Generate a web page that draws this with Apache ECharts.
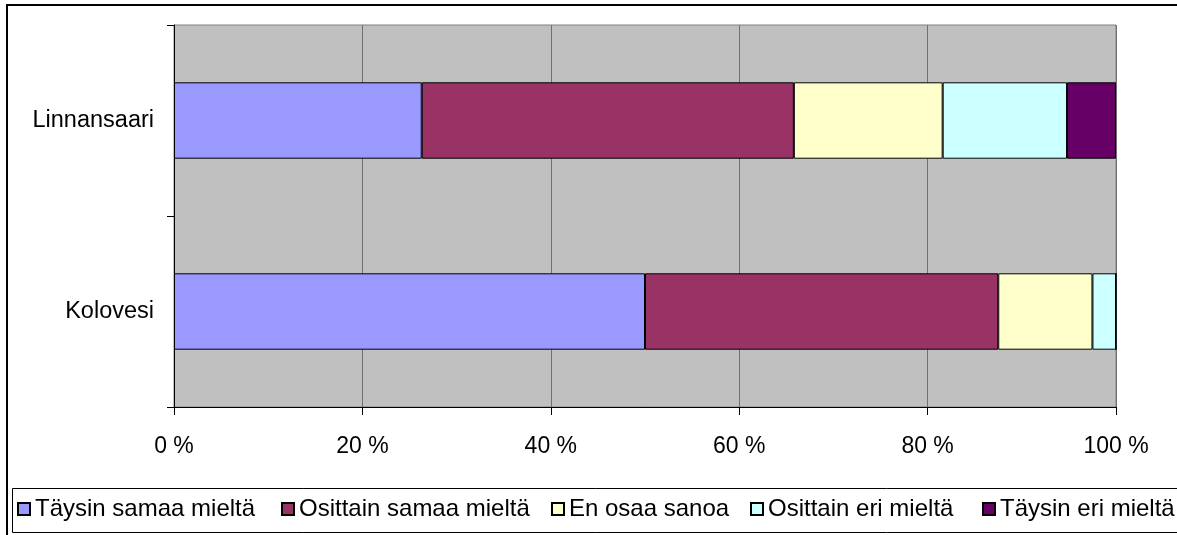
<!DOCTYPE html>
<html>
<head>
  <script src="https://cdn.jsdelivr.net/npm/echarts@6.0.0/dist/echarts.min.js"></script>
  <style>
    body {
      margin: 0;
      padding: 0;
      background-color: white;
    }
    #main {
      width: 1177px;
      height: 535px;
    }
  </style>
  <title>Linnansaari / Kolovesi</title>
</head>
<body>
<div id="main"></div>
<script>
  // categories bottom -> top, like Excel
  var categories = ['Kolovesi', 'Linnansaari'];
  var seriesNames = ['Täysin samaa mieltä', 'Osittain samaa mieltä', 'En osaa sanoa', 'Osittain eri mieltä', 'Täysin eri mieltä'];
  var taysinSamaa = [50, 26.3];
  var osittainSamaa = [37.5, 39.5];
  var enOsaa = [10, 15.8];
  var osittainEri = [2.5, 13.2];
  var taysinEri = [0, 5.2];
  var xTicks = [0, 20, 40, 60, 80, 100];

  var colors = ['#9999FF', '#993366', '#FFFFCC', '#CCFFFF', '#660066'];
  var values = [taysinSamaa, osittainSamaa, enOsaa, osittainEri, taysinEri];
  var legendLeft = [17, 281, 551, 750, 982];

  var font = 'Liberation Sans, Arial, sans-serif';

  var myChart = echarts.init(document.getElementById('main'));

  var series = [];
  var legends = [];
  for (var i = 0; i < seriesNames.length; i++) {
    series.push({
      name: seriesNames[i],
      type: 'bar',
      stack: 'total',
      barCategoryGap: '60%',
      itemStyle: {
        color: colors[i],
        borderColor: '#000',
        borderWidth: 1
      },
      emphasis: { disabled: true },
      data: values[i]
    });
    legends.push({
      data: [{ name: seriesNames[i], icon: 'rect' }],
      left: legendLeft[i],
      top: 497,
      itemWidth: 12,
      itemHeight: 12,
      itemGap: 0,
      padding: 0,
      selectedMode: false,
      textStyle: { fontFamily: font, fontSize: 24, color: '#000' }
    });
  }

  myChart.setOption({
    animation: false,
    color: colors,
    grid: {
      left: 174,
      right: 61,
      top: 25,
      bottom: 128,
      show: true,
      backgroundColor: '#C0C0C0',
      borderColor: '#808080',
      borderWidth: 1
    },
    legend: legends,
    xAxis: {
      type: 'value',
      min: xTicks[0],
      max: xTicks[xTicks.length - 1],
      interval: 20,
      axisLine: { show: true, lineStyle: { color: '#000', width: 1 } },
      axisTick: { show: true, length: 8, lineStyle: { color: '#000' } },
      axisLabel: {
        formatter: '{value} %',
        margin: 28,
        color: '#000',
        fontFamily: font,
        fontSize: 23
      },
      splitLine: { show: true, lineStyle: { color: '#707070', width: 1 } }
    },
    yAxis: {
      type: 'category',
      data: categories,
      axisLine: { show: true, lineStyle: { color: '#000', width: 1 } },
      axisTick: { show: true, length: 7, lineStyle: { color: '#000' } },
      axisLabel: {
        margin: 20,
        color: '#000',
        fontFamily: font,
        fontSize: 23.5
      },
      splitLine: { show: false }
    },
    graphic: [
      {
        type: 'rect',
        shape: { x: 7, y: 5, width: 1190, height: 560 },
        style: { fill: null, stroke: '#000', lineWidth: 2 },
        silent: true
      },
      {
        type: 'rect',
        shape: { x: 12.5, y: 488.5, width: 1190, height: 44 },
        style: { fill: null, stroke: '#000', lineWidth: 1 },
        silent: true
      }
    ],
    series: series
  });
</script>
</body>
</html>
